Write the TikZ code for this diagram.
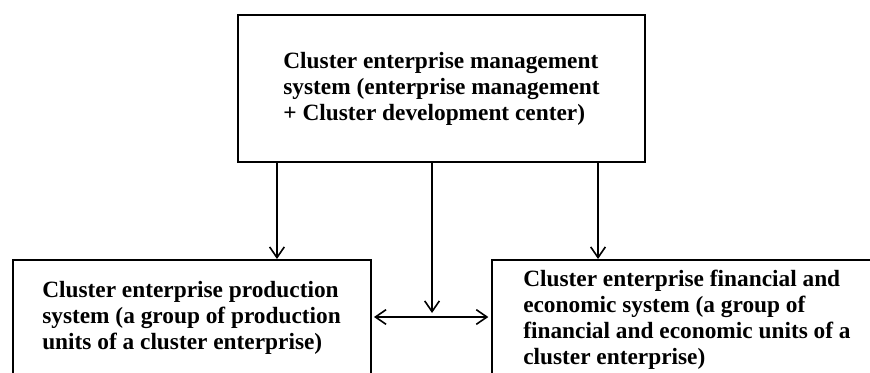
\documentclass[tikz,border=0pt]{standalone}
\usepackage{fontspec}
\setmainfont{Liberation Serif}
\usetikzlibrary{arrows.meta}

\tikzset{
  box/.style={draw, line width=1.5pt, rectangle, inner sep=0pt},
  txt/.style={align=left, inner sep=0pt, font=\fontsize{17.5}{19.5}\selectfont\bfseries},
  arr/.style={line width=1.2pt, -{Straight Barb[length=8pt,width=11pt]}},
  dblarr/.style={line width=1.2pt, {Straight Barb[length=8pt,width=11pt]}-{Straight Barb[length=8pt,width=11pt]}}
}

\begin{document}
\begin{tikzpicture}[x=0.75pt,y=-0.75pt]
\useasboundingbox (0,0) rectangle (870,372);
\clip (0,0) rectangle (870,372);

% boxes
\node[box, txt, minimum width=305.25pt, minimum height=110.6pt, text depth=3pt] (mgmt) at (441.5,88.25)
  {Cluster enterprise management\\system (enterprise management\\+ Cluster development center)};
\node[box, minimum width=268.5pt, minimum height=105pt] (prod) at (192,330) {};
\node[box, minimum width=306pt, minimum height=105pt] (fin) at (696,330) {};

\node[txt, anchor=north west] (prodtxt) at (42,281)
  {Cluster enterprise production\\system (a group of production\\units of a cluster enterprise)};
\node[txt, anchor=north west] (fintxt) at (523,270)
  {Cluster enterprise financial and\\economic system (a group of\\financial and economic units of a\\cluster enterprise)};

% arrows
\foreach \s/\t in {-123.4pt/prod, 117.4pt/fin} {
	\coordinate (d\t) at ([xshift=\s]mgmt.south);
	\draw[arr] (d\t) -- (d\t |- \t.north);
}

\coordinate (link) at ([yshift=9.75pt]prod.east);
\coordinate (mid) at ([xshift=-7.1pt]mgmt.south);
\draw[dblarr, shorten <=1.5pt, shorten >=2pt] (link) -- (link -| fin.west);
\draw[arr, shorten >=3pt] (mid) -- (mid |- link);
\end{tikzpicture}
\end{document}
